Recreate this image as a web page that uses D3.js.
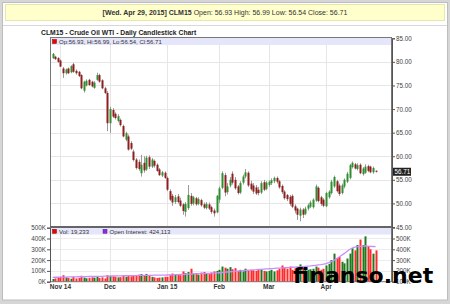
<!DOCTYPE html>
<html><head><meta charset="utf-8">
<script src="https://cdn.jsdelivr.net/npm/d3@7"></script>
<style>html,body{margin:0;padding:0;background:#d6d6d6;} svg{display:block;font-family:"Liberation Sans",Arial,sans-serif;}</style>
</head><body><svg id="c" width="450" height="304"></svg>
<script>
const dates = [
"2014-10-29","2014-10-30","2014-10-31",
"2014-11-03","2014-11-04","2014-11-05","2014-11-06","2014-11-07","2014-11-10","2014-11-11","2014-11-12","2014-11-13","2014-11-14","2014-11-17","2014-11-18","2014-11-19","2014-11-20","2014-11-21","2014-11-24","2014-11-25","2014-11-26","2014-11-28",
"2014-12-01","2014-12-02","2014-12-03","2014-12-04","2014-12-05","2014-12-08","2014-12-09","2014-12-10","2014-12-11","2014-12-12","2014-12-15","2014-12-16","2014-12-17","2014-12-18","2014-12-19","2014-12-22","2014-12-23","2014-12-24","2014-12-26","2014-12-29","2014-12-30","2014-12-31",
"2015-01-02","2015-01-05","2015-01-06","2015-01-07","2015-01-08","2015-01-09","2015-01-12","2015-01-13","2015-01-14","2015-01-15","2015-01-16","2015-01-20","2015-01-21","2015-01-22","2015-01-23","2015-01-26","2015-01-27","2015-01-28","2015-01-29","2015-01-30",
"2015-02-02","2015-02-03","2015-02-04","2015-02-05","2015-02-06","2015-02-09","2015-02-10","2015-02-11","2015-02-12","2015-02-13","2015-02-17","2015-02-18","2015-02-19","2015-02-20","2015-02-23","2015-02-24","2015-02-25","2015-02-26","2015-02-27",
"2015-03-02","2015-03-03","2015-03-04","2015-03-05","2015-03-06","2015-03-09","2015-03-10","2015-03-11","2015-03-12","2015-03-13","2015-03-16","2015-03-17","2015-03-18","2015-03-19","2015-03-20","2015-03-23","2015-03-24","2015-03-25","2015-03-26","2015-03-27","2015-03-30","2015-03-31",
"2015-04-01","2015-04-02","2015-04-06","2015-04-07","2015-04-08","2015-04-09","2015-04-10","2015-04-13","2015-04-14","2015-04-15","2015-04-16","2015-04-17","2015-04-20","2015-04-21","2015-04-22","2015-04-23","2015-04-24","2015-04-27","2015-04-28","2015-04-29"];

const opens = [80.8,81.1,80.8,80.3,78.6,77.6,78.6,77.8,79.5,78.1,77.9,77.2,73.9,75.0,76.2,75.8,74.5,76.2,77.2,76.1,74.4,73.4,
67.0,69.8,69.0,67.5,67.7,66.4,63.5,64.2,62.8,61.0,59.3,58.8,56.4,58.6,57.2,59.8,57.8,59.0,58.2,57.2,55.9,56.5,
55.4,52.6,51.6,50.3,51.5,50.6,49.8,48.2,49.0,51.6,50.0,51.1,49.9,50.7,49.8,49.0,49.8,49.2,48.5,48.1,
50.8,53.3,56.0,52.4,53.8,56.3,55.0,53.6,52.3,54.4,55.7,56.5,54.2,53.8,53.4,52.9,52.3,54.5,53.1,
53.9,54.3,54.7,55.4,54.7,53.7,52.5,51.8,51.4,51.6,49.4,48.9,47.4,48.7,47.8,48.9,49.3,49.2,50.6,53.3,51.3,50.8,
49.4,51.3,52.2,53.6,54.7,53.8,52.2,53.6,54.6,55.4,57.7,58.3,57.3,58.2,56.2,56.5,57.9,57.8,56.6,56.93];
const highs = [81.9,81.3,81.0,80.5,78.9,78.6,78.8,79.3,79.8,78.4,78.1,77.4,76.0,76.3,76.4,76.0,75.9,77.7,77.5,76.3,74.7,73.8,
70.5,70.2,69.3,68.9,68.0,66.7,65.2,64.6,63.2,61.4,59.6,59.3,60.3,60.0,60.1,60.2,59.6,59.3,58.5,57.5,56.9,56.8,
55.7,53.0,52.0,51.8,52.0,51.2,50.1,50.3,53.9,52.2,51.6,51.4,51.3,51.0,50.2,50.3,50.2,49.5,48.9,51.8,
53.6,56.8,56.5,54.3,55.6,56.8,55.6,53.9,54.7,56.1,57.3,56.8,54.8,54.3,53.9,53.5,54.7,55.0,54.7,
54.9,55.3,55.7,55.7,55.0,54.0,52.8,52.0,51.8,51.9,49.8,49.1,49.1,49.0,49.3,50.0,50.6,51.1,54.0,53.6,51.6,51.1,
52.5,52.8,55.0,55.9,55.0,54.2,54.2,55.3,56.7,58.4,58.9,58.6,58.5,58.5,57.7,58.3,58.2,58.0,57.8,56.99];
const lows = [80.6,80.4,79.8,78.9,76.6,77.3,77.4,77.6,77.7,77.3,76.8,74.2,73.5,74.8,74.9,74.6,74.3,76.0,75.6,74.2,73.2,65.3,
64.9,68.1,67.8,67.2,66.3,64.0,63.2,61.2,61.3,58.9,57.2,56.9,55.7,56.5,56.9,57.3,57.5,57.6,56.7,55.8,55.6,55.2,
52.6,50.5,49.5,49.9,50.0,49.2,47.6,47.2,48.6,49.5,49.6,49.5,49.6,49.3,48.8,48.7,48.6,47.8,47.2,47.9,
50.1,53.0,51.5,51.9,53.4,54.0,52.9,51.9,52.0,54.0,55.3,53.5,52.7,52.0,51.8,51.7,52.0,52.6,52.8,
53.5,53.9,54.3,54.2,53.1,52.0,50.8,50.5,49.5,49.0,47.9,46.5,46.2,46.9,47.5,48.5,49.0,48.9,50.3,50.2,49.5,49.2,
49.2,51.0,51.9,53.3,52.3,51.6,51.9,53.2,54.3,55.1,57.4,57.2,57.0,56.2,55.9,56.3,56.6,56.4,56.3,56.54];
const closes = [81.7,80.6,80.0,79.0,77.6,78.4,77.6,79.1,77.9,77.6,77.0,74.4,75.8,76.0,75.1,74.8,75.6,77.2,75.8,74.4,73.4,67.0,
70.0,68.4,68.1,68.5,66.6,64.2,64.9,61.4,61.6,59.2,57.5,57.3,58.2,57.0,59.7,57.8,59.3,58.0,56.9,56.0,56.6,55.4,
52.9,50.8,50.2,51.3,50.3,49.5,48.4,49.9,51.8,49.9,51.3,49.8,50.9,49.6,49.1,49.9,48.9,48.2,47.9,51.6,
53.2,56.4,52.3,53.6,55.0,54.4,53.2,52.2,54.3,55.7,56.6,53.8,53.0,52.5,52.1,52.2,54.3,52.9,54.4,
54.6,54.9,55.4,54.6,53.4,52.4,51.1,50.9,49.9,49.3,48.5,47.6,48.7,47.6,48.9,49.6,50.2,50.8,53.6,50.5,49.9,49.5,
52.2,52.5,54.6,55.6,52.6,52.0,53.8,55.0,56.3,58.1,58.6,57.4,58.1,56.4,57.4,57.8,56.9,56.6,57.5,56.71];
const volumesK = [25,30,38,45,60,40,35,28,45,30,35,55,38,32,35,40,38,45,35,40,30,60,
55,50,45,40,42,58,45,62,50,55,60,65,70,60,72,55,45,40,35,38,40,45,
45,60,75,70,65,60,95,80,90,120,75,80,65,85,90,80,70,85,95,100,
110,140,130,120,135,115,125,100,110,95,120,100,110,105,100,110,115,100,95,
100,110,95,105,120,150,130,120,140,110,125,120,160,130,120,110,115,120,140,130,110,120,
150,165,200,260,220,230,185,170,215,260,310,290,340,390,340,420,330,300,260,290];
const openInterestK = [140,141,141,142,143,143,144,144,145,145,146,146,147,147,148,148,149,149,150,150,151,152,
152,153,153,154,154,155,155,156,156,157,157,158,158,158,159,159,159,160,160,160,161,161,
162,163,164,165,166,167,168,169,170,171,172,173,174,175,176,177,178,179,180,181,
183,185,188,190,192,194,196,198,200,202,204,206,208,210,211,213,215,217,219,
220,222,223,225,226,228,229,231,232,234,235,237,238,240,242,244,246,249,252,255,258,262,
268,276,286,298,312,328,345,362,380,398,412,420,424,427,430,432,430,428,426,424];
const priceTicks = [45,50,55,60,65,70,75,80,85];
const volTicks = [0,100,200,300,400,500];
const oiTicks = [100,200,300,400,500];
const monthTicks = [{d:"2014-11-03",label:"Nov 14"},{d:"2014-12-01",label:"Dec"},{d:"2015-01-02",label:"Jan 15"},{d:"2015-02-02",label:"Feb"},{d:"2015-03-02",label:"Mar"},{d:"2015-04-01",label:"Apr"}];
const headerBold = "[Wed. Apr 29, 2015] CLM15";
const headerRest = " Open: 56.93 High: 56.99 Low: 56.54 Close: 56.71";
const chartTitle = "CLM15 - Crude Oil WTI - Daily Candlestick Chart";
const priceLegend = "Op:56.93, Hi:56.99, Lo:56.54, Cl:56.71";
const volLegend = "Vol: 19,233";
const oiLegend = "Open Interest: 424,113";
const lastPrice = "56.71";

const svg = d3.select("#c");
const L = 50, R = 392, PT = 37.5, PB = 227, VT = 227, VB = 281.7;

svg.append("rect").attr("width",450).attr("height",304).attr("fill","#d6d6d6");
svg.append("rect").attr("x",2.5).attr("y",2.5).attr("width",445).attr("height",297.5).attr("fill","#fff").attr("stroke","#bdbdbd");
svg.append("rect").attr("x",5.5).attr("y",4.5).attr("width",439).attr("height",16).attr("fill","#ffffcc").attr("stroke","#e6e6b0");
const ht = svg.append("text").attr("x",225).attr("y",15.3).attr("text-anchor","middle").attr("font-size",7).attr("fill","#333");
ht.append("tspan").attr("font-weight","bold").text(headerBold);
ht.append("tspan").text(headerRest);
svg.append("line").attr("x1",3).attr("x2",447).attr("y1",25.5).attr("y2",25.5).attr("stroke","#d8d8d8");
svg.append("text").attr("x",41).attr("y",34.5).attr("font-size",6.8).attr("font-weight","bold").attr("fill","#222").text(chartTitle);

const idx = d3.range(dates.length);
const x = d3.scaleLinear().domain([-1, 130.3]).range([L, R]);
const y = d3.scaleLinear().domain([45, 85]).range([PB, 38.3]);
const yv = d3.scaleLinear().domain([0, 500]).range([VB, 227.7]);
const yo = d3.scaleLinear().domain([100, 600]).range([VB, 227.7]);
const di = d => dates.indexOf(d);

// price panel grid
const gp = svg.append("g");
gp.selectAll("line.h").data(priceTicks.slice(1,-1)).join("line").attr("x1",L).attr("x2",R)
  .attr("y1",d=>Math.round(y(d))+0.5).attr("y2",d=>Math.round(y(d))+0.5).attr("stroke","#e6e6e6");
gp.selectAll("line.v").data(monthTicks).join("line").attr("y1",PT).attr("y2",PB)
  .attr("x1",d=>Math.round(x(di(d.d)))+0.5).attr("x2",d=>Math.round(x(di(d.d)))+0.5).attr("stroke","#e6e6e6");
svg.append("rect").attr("x",L).attr("y",38).attr("width",R-L).attr("height",7).attr("fill","#e6e6fa");
svg.append("rect").attr("x",52.5).attr("y",39.5).attr("width",4).attr("height",4).attr("fill","#e00").attr("stroke","#800").attr("stroke-width",0.5);
svg.append("text").attr("x",59).attr("y",44).attr("font-size",6).attr("fill","#333").text(priceLegend);

// candles
const cg = svg.append("g");
const bw = 2;
cg.selectAll("line").data(idx).join("line")
  .attr("x1",i=>Math.round(x(i))+0.5).attr("x2",i=>Math.round(x(i))+0.5)
  .attr("y1",i=>y(highs[i])).attr("y2",i=>y(lows[i])).attr("stroke","#9a9a9a").attr("stroke-width",1);
cg.selectAll("rect").data(idx).join("rect")
  .attr("x",i=>Math.round(x(i))-0.5).attr("width",bw)
  .attr("y",i=>y(Math.max(opens[i],closes[i])))
  .attr("height",i=>Math.max(1,Math.abs(y(opens[i])-y(closes[i]))))
  .attr("fill",i=>closes[i]>=opens[i]?"#2f8f2f":"#8e1f1f");

svg.append("rect").attr("x",L+0.5).attr("y",PT).attr("width",R-L-1).attr("height",PB-PT).attr("fill","none").attr("stroke","#777");
// right price axis
const ax = svg.append("g").attr("transform",`translate(${R},0)`)
  .call(d3.axisRight(y).tickValues(priceTicks).tickFormat(d3.format(".2f")).tickSize(3).tickPadding(1));
ax.select(".domain").attr("stroke","#555");
ax.selectAll("line").attr("stroke","#555");
ax.selectAll("text").attr("font-size",6.3).attr("fill","#444").attr("font-family","Liberation Sans, Arial, sans-serif");

// last price tag
svg.append("rect").attr("x",393).attr("y",y(+lastPrice)-4).attr("width",18).attr("height",8).attr("fill","#222");
svg.append("text").attr("x",394.5).attr("y",y(+lastPrice)+2.3).attr("font-size",6.3).attr("fill","#fff").text(lastPrice);

// volume panel
const gv = svg.append("g");
gv.selectAll("line.h").data(volTicks.slice(1,-1)).join("line").attr("x1",L).attr("x2",R)
  .attr("y1",d=>Math.round(yv(d))+0.5).attr("y2",d=>Math.round(yv(d))+0.5).attr("stroke","#ececec");
gv.selectAll("line.v").data(monthTicks).join("line").attr("y1",VT).attr("y2",VB)
  .attr("x1",d=>Math.round(x(di(d.d)))+0.5).attr("x2",d=>Math.round(x(di(d.d)))+0.5).attr("stroke","#e6e6e6");
svg.append("rect").attr("x",L).attr("y",228).attr("width",R-L).attr("height",6.5).attr("fill","#e6e6fa");
gv.selectAll("rect.b").data(idx).join("rect")
  .attr("x",i=>Math.round(x(i))-0.5).attr("width",2)
  .attr("y",i=>yv(volumesK[i])).attr("height",i=>VB-yv(volumesK[i]))
  .attr("fill",i=>closes[i]>=opens[i]?"#1f7a1f":"#ff2a2a");
svg.append("path").datum(idx).attr("fill","none").attr("stroke","#c98cff").attr("stroke-width",1.3)
  .attr("d",d3.line().x(i=>x(i)).y(i=>yo(openInterestK[i])));
svg.append("rect").attr("x",52.5).attr("y",229.3).attr("width",4).attr("height",4).attr("fill","#e00").attr("stroke","#800").attr("stroke-width",0.5);
svg.append("text").attr("x",59).attr("y",233.6).attr("font-size",6).attr("fill","#333").text(volLegend);
svg.append("rect").attr("x",103).attr("y",229.3).attr("width",4).attr("height",4).attr("fill","#8a2be2").attr("stroke","#50208a").attr("stroke-width",0.5);
svg.append("text").attr("x",109.5).attr("y",233.6).attr("font-size",6).attr("fill","#333").text(oiLegend);
svg.append("line").attr("x1",L).attr("x2",R).attr("y1",227).attr("y2",227).attr("stroke","#333").attr("stroke-width",1.5);
svg.append("rect").attr("x",L+0.5).attr("y",VT).attr("width",R-L-1).attr("height",VB-VT).attr("fill","none").attr("stroke","#777");

const axl = svg.append("g").attr("transform",`translate(${L},0)`)
  .call(d3.axisLeft(yv).tickValues(volTicks).tickFormat(d=>d+"K").tickSize(3).tickPadding(1));
const axr = svg.append("g").attr("transform",`translate(${R},0)`)
  .call(d3.axisRight(yo).tickValues(oiTicks).tickFormat(d=>d+"K").tickSize(3).tickPadding(1));
[axl,axr].forEach(a=>{a.select(".domain").attr("stroke","#555");a.selectAll("line").attr("stroke","#555");
  a.selectAll("text").attr("font-size",6.3).attr("fill","#444").attr("font-family","Liberation Sans, Arial, sans-serif");});

// x axis labels
svg.append("g").selectAll("text").data(monthTicks).join("text")
  .attr("x",d=>x(di(d.d))).attr("y",289).attr("text-anchor","middle").attr("font-size",6.5).attr("font-weight","bold").attr("fill","#333")
  .text(d=>d.label);

// watermark
svg.append("text").attr("x",293).attr("y",283).attr("font-family","DejaVu Sans, sans-serif").attr("font-weight","bold").attr("font-size",22).attr("fill","#000").text("finanso.net");
</script></body></html>
